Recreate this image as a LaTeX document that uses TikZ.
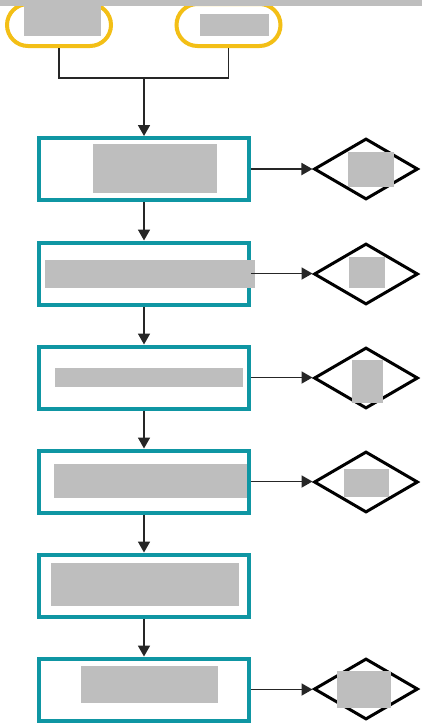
\documentclass[tikz,border=0pt]{standalone}
\usetikzlibrary{shapes.geometric,arrows.meta}
\definecolor{stepteal}{HTML}{0F96A3}
\definecolor{startgold}{HTML}{F3BF16}
\definecolor{redactgray}{HTML}{BEBEBE}
\tikzset{
  startbox/.style={draw=startgold,line width=4pt,rounded corners=21pt,
    minimum width=104pt,minimum height=42pt,inner sep=0pt},
  stepbox/.style={draw=stepteal,line width=4pt,fill=white,
    minimum width=210pt,minimum height=62pt,inner sep=0pt},
  checkbox/.style={draw=black,line width=3pt,shape=diamond,aspect=1.69,
    minimum width=104pt,minimum height=61pt,inner sep=0pt},
  redact/.style={fill=redactgray},
  link/.style={draw=black!85,line width=1.8pt},
  flow/.style={link,-{Triangle[length=11pt,width=12pt]}}
}
\begin{document}
\begin{tikzpicture}[x=1pt,y=-1pt]
  \useasboundingbox (0,0) rectangle (422,726);
  \draw
    (59,25) node[startbox] (s1){}
    (228.5,25) node[startbox] (s2){}
    (144,169) node[stepbox] (b1){}
    (144,273.5) node[stepbox] (b2){}
    (144,377.5) node[stepbox] (b3){}
    (144,481.5) node[stepbox] (b4){}
    (144,585.5) node[stepbox] (b5){}
    (144,689.5) node[stepbox] (b6){}
    (366,169) node[checkbox] (d1){}
    (366,274) node[checkbox] (d2){}
    (366,378) node[checkbox] (d3){}
    (366,482) node[checkbox] (d4){}
    (366,689) node[checkbox] (d6){};
  \coordinate (join) at (144,78);
  % top band and redacted labels
  \fill[redactgray] (0,0) rectangle (422,6);
  \fill[redact] (24,6) rectangle (101,36);
  \fill[redact] (200,14) rectangle (269,36);
  \fill[redact] (93,144) rectangle (217,193);
  \fill[redact] (348,152) rectangle (394,187);
  \fill[redact] (45,260) rectangle (255,288);
  \fill[redact] (349,257) rectangle (385,288);
  \fill[redact] (55,368) rectangle (243,387);
  \fill[redact] (352,360) rectangle (383,403);
  \fill[redact] (54,464) rectangle (247,498);
  \fill[redact] (344,469) rectangle (389,497);
  \fill[redact] (51,563) rectangle (239,606);
  \fill[redact] (81,666) rectangle (218,703);
  \fill[redact] (337,671) rectangle (391,708);
  \begin{scope}
    \draw[link] (s1.south) |- (join) -| (s2.south);
    \draw[flow] (join) to (b1.north);
    \draw[flow] (b1) to (b2);
    \draw[flow] (b2) to (b3);
    \draw[flow] (b3) to (b4);
    \draw[flow] (b4) to (b5);
    \draw[flow] (b5) to (b6);
    \draw[flow] (b1) to (d1);
    \draw[flow] (b2.east) to (b2.east -| d2.west);
    \draw[flow] (b3.east) to (b3.east -| d3.west);
    \draw[flow] (b4.east) to (b4.east -| d4.west);
    \draw[flow] (b6.east) to (b6.east -| d6.west);
  \end{scope}
\end{tikzpicture}
\end{document}
